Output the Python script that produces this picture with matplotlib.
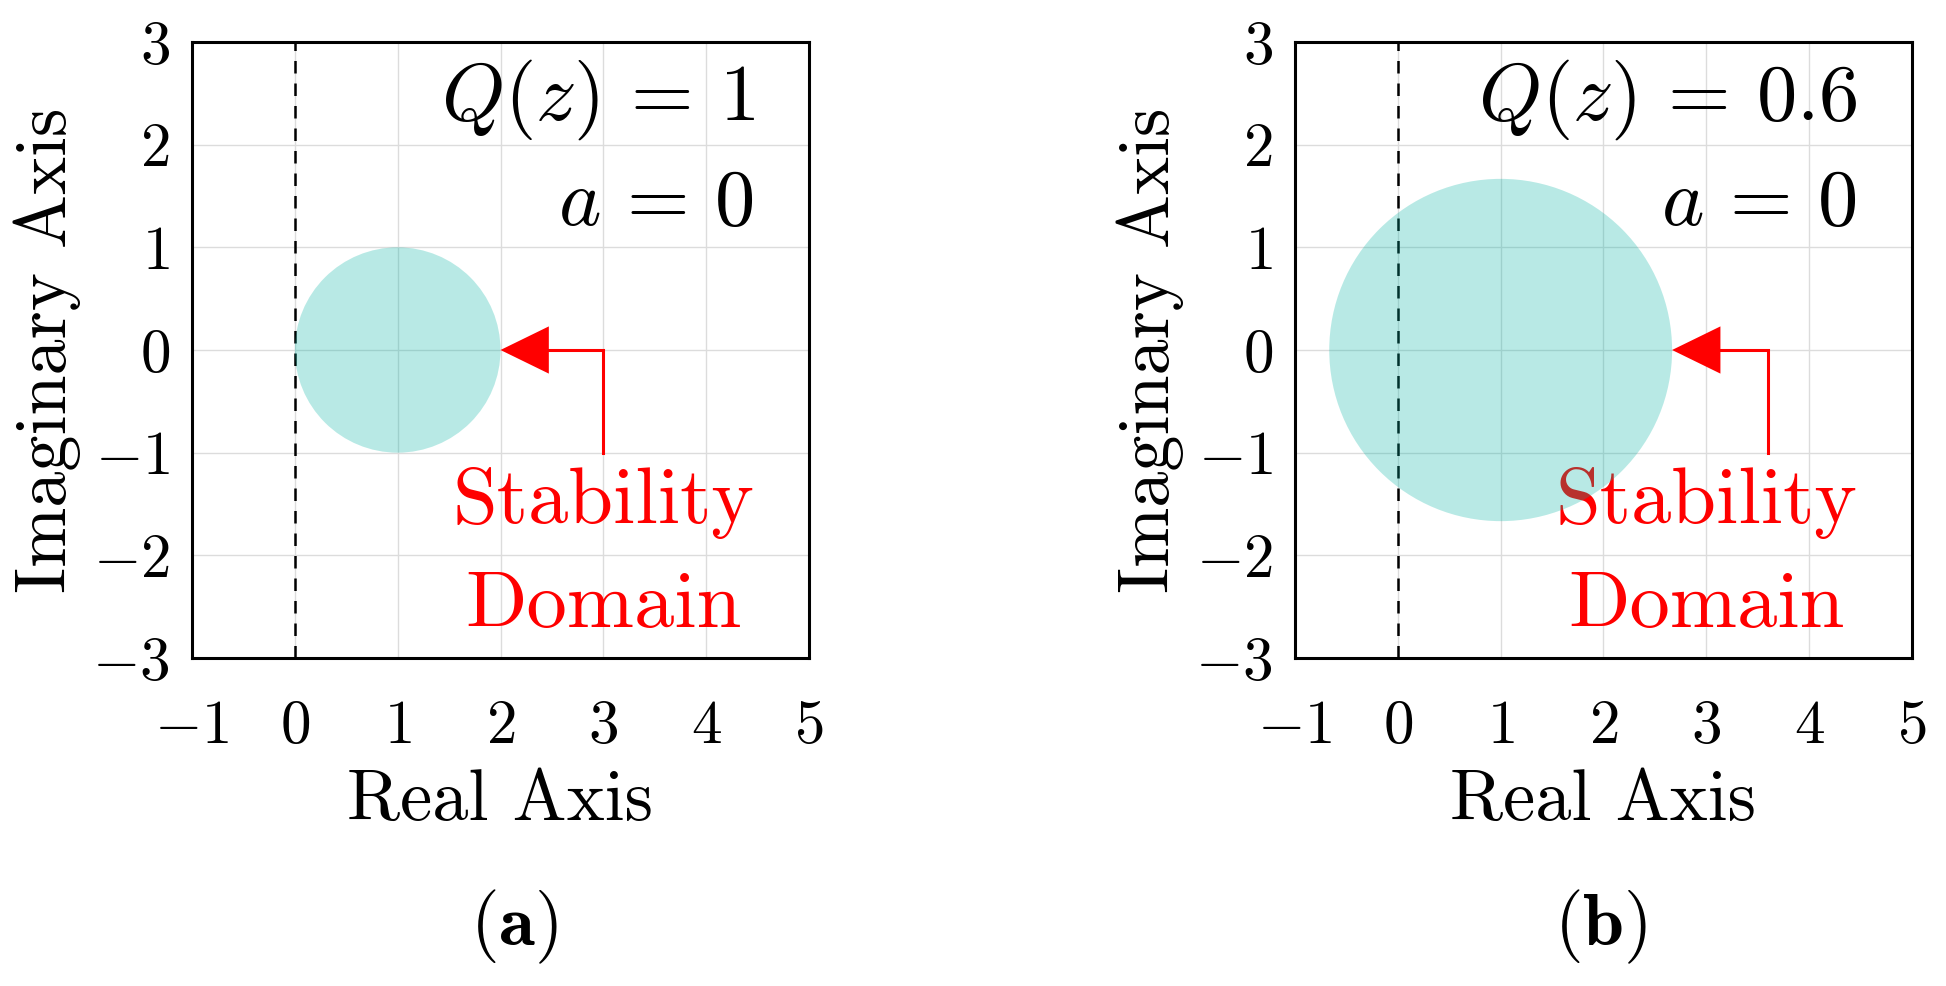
import matplotlib
matplotlib.use("Agg")
import matplotlib.pyplot as plt
from matplotlib.patches import Circle

# values
q_values = ["1", "0.6"]
a_values = ["0", "0"]
circle_centers = [1.0, 1.0]
circle_radii = [1.0, 1.667]
arrow_x = [3.0, 3.6]        # vertical leg of the arrow
arrow_y0 = -1.0             # bottom of the vertical leg
panel_labels = ["a", "b"]
x_ticks = [-1, 0, 1, 2, 3, 4, 5]
y_ticks = [-3, -2, -1, 0, 1, 2, 3]

plt.rcParams.update({
    "font.family": "serif",
    "font.serif": ["cmr10", "DejaVu Serif"],
    "mathtext.fontset": "cm",
    "axes.formatter.use_mathtext": True,
})

W, H = 1946, 986
fig = plt.figure(figsize=(W / 100, H / 100), dpi=100)

axes_px = [(192, 42, 617, 616), (1295, 42, 617, 616)]
label_x_px = [514, 1600]

HEAD_LEN = 0.47
HEAD_HALF = 0.23

for i, (l, t, w, h) in enumerate(axes_px):
    ax = fig.add_axes([l / W, 1 - (t + h) / H, w / W, h / H])
    ax.set_xlim(-1, 5)
    ax.set_ylim(-3, 3)
    ax.set_xticks(x_ticks)
    ax.set_yticks(y_ticks)
    ax.set_xticklabels([f"${v}$" for v in x_ticks])
    ax.set_yticklabels([f"${v}$" for v in y_ticks])
    ax.tick_params(length=0, labelsize=44)
    ax.tick_params(axis="x", pad=30)
    ax.tick_params(axis="y", pad=16)
    ax.grid(True, color="#dcdcdc", lw=1.0, zorder=0)
    ax.set_axisbelow(True)
    for s in ax.spines.values():
        s.set_linewidth(2.2)

    ax.axvline(0, color="black", ls=(0, (5, 4)), lw=1.8, zorder=2)

    ax.text(3.0, -1.49, "Stability", color="red", fontsize=58,
            ha="center", va="center", zorder=1)
    ax.text(3.0, -2.5, "Domain", color="red", fontsize=58,
            ha="center", va="center", zorder=1)

    circ = Circle((circle_centers[i], 0), circle_radii[i],
                  facecolor=(0.0, 0.70, 0.64), alpha=0.28, lw=0, zorder=3)
    ax.add_patch(circ)

    tip = circle_centers[i] + circle_radii[i]
    ax.plot([arrow_x[i], arrow_x[i], tip + HEAD_LEN],
            [arrow_y0, 0, 0], color="red", lw=2.2, zorder=4,
            solid_joinstyle="miter")
    ax.fill([tip, tip + HEAD_LEN, tip + HEAD_LEN],
            [0, HEAD_HALF, -HEAD_HALF], color="red", lw=0, zorder=4)

    ax.text(4.47, 2.44, rf"$Q(z)\,=\,{q_values[i]}$", fontsize=58,
            ha="right", va="center", zorder=5)
    ax.text(4.47, 1.41, rf"$a\,=\,{a_values[i]}$", fontsize=58,
            ha="right", va="center", zorder=5)

    ax.set_xlabel("Real Axis", fontsize=52, labelpad=10)
    ax.set_ylabel("Imaginary Axis", fontsize=52, labelpad=8)

    fig.text(label_x_px[i] / W, 1 - 927 / H,
             rf"$(\mathbf{{{panel_labels[i]}}})$",
             fontsize=53, ha="center", va="center")

fig.savefig("out.png", dpi=100)
